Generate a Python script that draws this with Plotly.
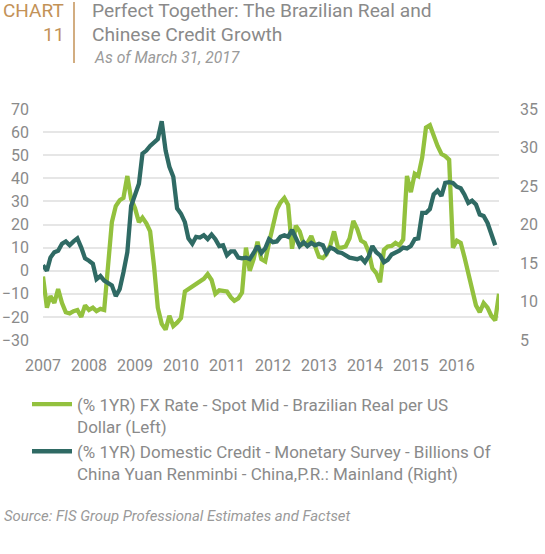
import pandas as pd
import plotly.graph_objects as go

# ---------------- data ----------------
start_month = "2007-01-01"
year_ticks = ["2007", "2008", "2009", "2010", "2011", "2012", "2013", "2014", "2015", "2016"]

brl_fx_yoy = [
    -2.5, -16, -11, -14, -8, -14, -18, -18.5, -17.5, -17, -20, -15,
    -17, -16, -17.5, -16.5, -17, 2, 21, 28, 30.5, 31.5, 41, 31,
    27, 21, 23, 20.5, 17, 2, -16, -23, -25.5, -19.5, -24, -22.5,
    -20.5, -9, -8, -6.8, -6, -5, -3.5, -1.5, -4, -10, -8.5, -8.7,
    -9, -11.5, -13, -12, -9.5, 10, 0, 5, 12.5, 5, 4, 12,
    20, 26.5, 29.5, 31.5, 28.5, 9.5, 19.5, 17, 11.5, 12, 15, 10,
    6, 5.5, 7, 11, 17, 10, 10, 10.5, 14, 21.5, 18, 13,
    12, 8, 1, -1, -5, 9, 10.5, 10.7, 12, 11, 13.5, 41,
    34, 42, 41, 49, 62, 63, 58, 54, 50.5, 49.6, 48, 10,
    13, 12, 6, -1.5, -8.5, -15, -18, -14, -16, -19.5, -21.5, -10,
]

china_credit_yoy = [
    14.7, 14.0, 15.7, 16.4, 16.6, 17.5, 17.8, 17.3, 17.8, 18.2, 17.0, 15.6,
    15.3, 14.9, 12.9, 13.3, 12.7, 12.4, 12.1, 10.7, 11.6, 13.8, 16.4, 22.4,
    23.8, 25.3, 29.2, 29.6, 30.2, 30.7, 31.1, 33.4, 29.6, 27.5, 26.2, 22.1,
    21.4, 20.3, 18.2, 17.5, 18.4, 18.3, 18.6, 18.1, 18.7, 18.1, 17.2, 17.3,
    16.0, 16.5, 16.5, 15.7, 15.6, 15.7, 15.5, 16.3, 17.2, 16.3, 16.9, 18.1,
    17.7, 17.8, 18.4, 18.6, 18.4, 19.3, 18.3, 17.2, 17.7, 17.2, 17.6, 17.3,
    17.5, 17.3, 16.3, 17.0, 16.8, 16.4, 16.3, 16.0, 15.7, 15.6, 15.5, 15.7,
    15.1, 15.9, 17.2, 16.4, 16.0, 15.1, 15.4, 16.1, 16.3, 16.6, 17.0, 16.9,
    17.2, 18.1, 18.2, 21.5, 21.5, 22.0, 23.9, 24.4, 23.7, 25.4, 25.5, 25.4,
    24.9, 24.7, 23.9, 22.8, 23.1, 22.6, 21.3, 21.1, 20.2, 18.8, 17.3,
]

brl_name = "(% 1YR) FX Rate - Spot Mid - Brazilian Real per US<br>Dollar (Left)"
china_name = ("(% 1YR) Domestic Credit - Monetary Survey - Billions Of<br>"
              "China Yuan Renminbi - China,P.R.: Mainland (Right)")

brl_dates = pd.date_range(start_month, periods=len(brl_fx_yoy), freq="MS")
china_dates = pd.date_range(start_month, periods=len(china_credit_yoy), freq="MS")

# ---------------- style ----------------
GREEN = "#93c13e"
TEAL = "#2f6a64"
GOLD = "#c39257"
GRAY = "#8a8a8a"
FONT = "Roboto, Liberation Sans, sans-serif"

fig = go.Figure()
fig.add_trace(go.Scatter(x=brl_dates, y=brl_fx_yoy, name=brl_name, mode="lines",
                         line=dict(color=GREEN, width=4.3), yaxis="y"))
fig.add_trace(go.Scatter(x=china_dates, y=china_credit_yoy, name=china_name, mode="lines",
                         line=dict(color=TEAL, width=4.3), yaxis="y2"))

L, R, T, B = 43, 46, 109, 214
W, H = 545, 554
pw, ph = W - L - R, H - T - B

def px_x(x):
    return (x - L) / pw

def px_y(y):
    return (H - B - y) / ph

fig.update_layout(
    width=W, height=H,
    margin=dict(l=L, r=R, t=T, b=B, pad=0, autoexpand=False),
    paper_bgcolor="white", plot_bgcolor="white",
    font=dict(family=FONT, size=16, color=GRAY),
    showlegend=True,
    legend=dict(x=px_x(27), y=px_y(386.5), xanchor="left", yanchor="top",
                valign="top", tracegroupgap=0, itemwidth=40,
                font=dict(family=FONT, size=17, color=GRAY),
                bgcolor="rgba(0,0,0,0)"),
    xaxis=dict(type="date", range=["2007-01-01", "2016-12-01"],
               tickvals=[f"{y}-01-01" for y in year_ticks], ticktext=year_ticks,
               showgrid=False, zeroline=False, showline=False, ticks="",
               ticklabelstandoff=14, tickfont=dict(family=FONT, size=16, color=GRAY)),
    yaxis=dict(range=[-30, 70], dtick=10, tick0=0, showgrid=True,
               gridcolor="#e6e6e6", gridwidth=1.5, zeroline=False, showline=False,
               ticks="", ticklabelstandoff=13,
               tickfont=dict(family=FONT, size=16, color=GRAY)),
    yaxis2=dict(range=[5, 35], dtick=5, tick0=5, overlaying="y", side="right",
                showgrid=False, zeroline=False, showline=False, ticks="",
                ticklabelstandoff=20, tickfont=dict(family=FONT, size=16, color=GRAY)),
)

ann = []
ann.append(dict(text="CHART", x=px_x(66), y=px_y(11), xanchor="right", yanchor="middle",
                font=dict(family=FONT, size=19, color=GOLD)))
ann.append(dict(text="11", x=px_x(66), y=px_y(34.5), xanchor="right", yanchor="middle",
                font=dict(family=FONT, size=19, color=GOLD)))
ann.append(dict(text="Perfect Together: The Brazilian Real and", x=px_x(90), y=px_y(11),
                xanchor="left", yanchor="middle",
                font=dict(family=FONT, size=19.2, color=GRAY)))
ann.append(dict(text="Chinese Credit Growth", x=px_x(90), y=px_y(34.5),
                xanchor="left", yanchor="middle",
                font=dict(family=FONT, size=19.2, color=GRAY)))
ann.append(dict(text="<i>As of March 31, 2017</i>", x=px_x(92), y=px_y(57),
                xanchor="left", yanchor="middle",
                font=dict(family=FONT, size=15.7, color="#9a9a9a")))
ann.append(dict(text="<i>Source: FIS Group Professional Estimates and Factset</i>",
                x=px_x(2), y=px_y(516), xanchor="left", yanchor="middle",
                font=dict(family=FONT, size=14.9, color="#9a9a9a")))
for a in ann:
    a.update(xref="paper", yref="paper", showarrow=False)
fig.update_layout(annotations=ann)

fig.add_shape(type="line", xref="paper", yref="paper",
              x0=px_x(74), x1=px_x(74), y0=px_y(63), y1=px_y(2),
              line=dict(color=GOLD, width=1.5))

fig.write_html("out.html", config={"displayModeBar": False},
               post_script="document.body.style.margin='0';")
